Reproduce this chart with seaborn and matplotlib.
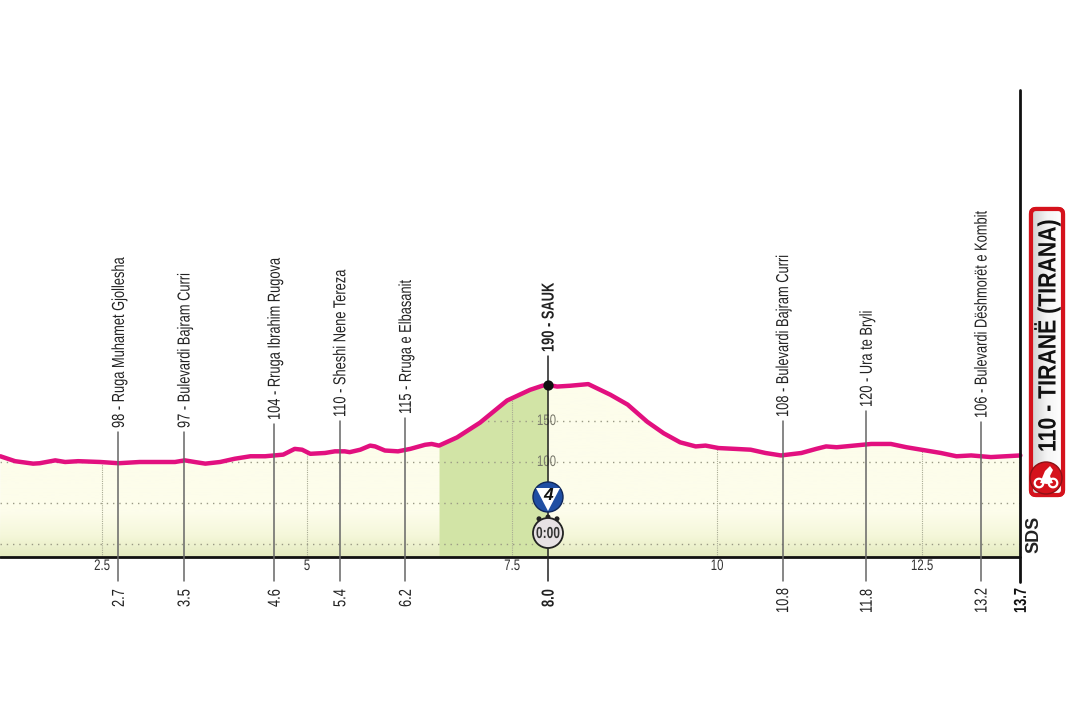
""" Stage profile : Tirane time trial """

import numpy as np
import pandas as pd
import matplotlib.pyplot as plt
import matplotlib.patheffects as pe
import seaborn as sns
from matplotlib.colors import LinearSegmentedColormap
from matplotlib.patches import Circle, FancyBboxPatch, Polygon
from matplotlib.transforms import Affine2D

sns.set_theme(style="white")
plt.rcParams["font.family"] = ["Liberation Sans", "DejaVu Sans"]

""" Data read off the picture """
# Elevation profile (km, metres)
profile_km = [1.26, 1.44, 1.66, 1.74, 1.93, 2.05, 2.21, 2.48, 2.70, 2.96, 3.39, 3.51, 3.63, 3.76,
              3.94, 4.12, 4.31, 4.49, 4.71, 4.85, 4.94, 5.04, 5.22, 5.34, 5.46, 5.52, 5.65, 5.77,
              5.83, 5.95, 6.11, 6.26, 6.44, 6.52, 6.61, 6.83, 7.11, 7.44, 7.72, 7.87, 7.94, 8.05,
              8.21, 8.43, 8.70, 8.91, 9.15, 9.35, 9.55, 9.74, 9.86, 10.02, 10.22, 10.41, 10.59,
              10.78, 11.03, 11.21, 11.33, 11.46, 11.88, 12.12, 12.31, 12.61, 12.73, 12.92, 13.10,
              13.34, 13.70]
profile_m = [107, 101, 98, 98.5, 102, 100, 101, 100, 98.5, 100, 100, 102, 100, 98,
             100, 104, 107, 107, 109, 116, 115, 110, 111, 113, 113, 112, 115, 120,
             119, 114, 113, 116, 121, 122, 120, 130, 148, 175, 188, 193, 194, 192,
             193, 195, 182, 170, 149, 135, 124, 119, 120, 117, 116, 115, 111,
             108, 111, 116, 119, 118, 122, 122, 118, 113, 111, 107, 108,
             106, 108]

# Named points along the route
point_km = [2.7, 3.5, 4.6, 5.4, 6.2, 7.94, 10.8, 11.82, 13.22]
point_km_labels = ["2.7", "3.5", "4.6", "5.4", "6.2", "8.0", "10.8", "11.8", "13.2"]
point_names = ["98 - Ruga Muhamet Gjollesha", "97 - Bulevardi Bajram Curri", "104 - Rruga Ibrahim Rugova",
               "110 - Sheshi Nene Tereza", "115 - Rruga e Elbasanit", "190 - SAUK",
               "108 - Bulevardi Bajram Curri", "120 - Ura te Bryli", "106 - Bulevardi Dëshmorët e Kombit"]
# Pixel row where each label ends
label_rows = [428, 428, 420, 417, 414, 352, 417, 407, 418]
# Pixel row where each km label starts at the bottom
km_label_rows = [607, 607, 607, 607, 607, 607, 613, 613, 613]

km_ticks = [2.5, 5, 7.5, 10, 12.5]
km_tick_labels = ["2.5", "5", "7.5", "10", "12.5"]
elev_ticks = [0, 50, 100, 150]
elev_tick_labels = ["150", "100"]
climb_start_km = 6.60
summit_km = 7.94
finish_km = 13.70
finish_label = "13.7"
finish_name = "110 - TIRANË (TIRANA)"

df = pd.DataFrame({"km": profile_km, "m": profile_m})


# Squeeze glyphs along the text direction, there is no narrow font installed
class Condense(pe.AbstractPathEffect):
    def __init__(self, sx, center=False):
        super().__init__()
        self.sx = sx
        self.center = center

    def draw_path(self, renderer, gc, tpath, affine, rgbFace=None):
        shift = 0
        if self.center:
            ext = tpath.get_extents()
            shift = (1 - self.sx) * (ext.x0 + ext.x1) / 2
        renderer.draw_path(gc, tpath, Affine2D().scale(self.sx, 1).translate(shift, 0) + affine, rgbFace)


narrow = [Condense(0.74)]
narrow_center = [Condense(0.75, center=True)]
px_m = lambda row: (544 - row) / 0.82
text_nudge = 1 / 82

""" Figure : one axes for the data, one pixel overlay for the badges """
fig = plt.figure(figsize=(10.68, 7.12), dpi=100)
ax = fig.add_axes([0, 0, 1, 1])
xlim = (1.256, 1.256 + 1068 / 82)
ylim = (px_m(712), px_m(0))
base_m = px_m(557)

# Pale fill with a soft green fade at the bottom, clipped under the curve
cream = LinearSegmentedColormap.from_list("cream", [(0, "#e4ebc0"), (0.12, "#f5f7da"), (0.25, "#fdfdeb"), (1, "#fdfdeb")])
grad = np.linspace(0, 1, 200).reshape(-1, 1)
im = ax.imshow(grad, extent=(xlim[0], finish_km, base_m, 200), origin="lower", aspect="auto", cmap=cream, zorder=1)
under = Polygon(list(zip(profile_km, profile_m)) + [(finish_km, base_m), (xlim[0], base_m)], transform=ax.transData, fc="none", ec="none")
ax.add_patch(under)
im.set_clip_path(under)

# Climb in green
mask = (df["km"] >= climb_start_km) & (df["km"] <= summit_km)
ax.fill_between(df["km"][mask], base_m, df["m"][mask], color="#d2e4a6", lw=0, zorder=2)

# Dotted elevation lines and light km lines, only under the curve
for e in elev_ticks:
    line, = ax.plot([xlim[0], finish_km], [e, e], color="#9a9a85", lw=1, ls=(0, (1, 3.5)), zorder=3)
    line.set_clip_path(under)
for k, lab in zip(km_ticks, km_tick_labels):
    line, = ax.plot([k, k], [base_m, 300], color="#a9ab94", lw=0.8, ls=(0, (1, 1)), zorder=3)
    line.set_clip_path(under)
    ax.text(k, px_m(566), lab, ha="center", va="center", fontsize=11, color="#333333", path_effects=narrow_center)
for e, lab in zip(elev_ticks[:1:-1], elev_tick_labels):
    ax.text(summit_km - 0.02, e, lab, ha="center", va="center", fontsize=11, color="#77776a", zorder=4, path_effects=narrow_center)

# Profile curve
sns.lineplot(data=df, x="km", y="m", ax=ax, color="#e2107f", lw=3.2, sort=False, errorbar=None, zorder=5)

# Axis lines
ax.plot([xlim[0], finish_km], [base_m, base_m], color="#111111", lw=2, zorder=6)
ax.plot([finish_km, finish_km], [px_m(582), px_m(90)], color="#111111", lw=2, zorder=6)

# Route points
for k, lab, name, row, krow in zip(point_km, point_km_labels, point_names, label_rows, km_label_rows):
    is_summit = k == summit_km
    ax.plot([k, k], [px_m(581), px_m(row + 4)], color="#222222" if is_summit else "#666666", lw=1.1, zorder=6)
    weight = "bold" if is_summit else "normal"
    ax.text(k + text_nudge, px_m(row), name, rotation=90, ha="center", va="bottom", fontsize=12.5, color="#222222",
            fontweight=weight, zorder=7, path_effects=narrow)
    ax.text(k + text_nudge, px_m(krow), lab, rotation=90, ha="center", va="bottom", fontsize=12.5, color="#222222",
            fontweight=weight, zorder=7, path_effects=narrow)
ax.text(finish_km + text_nudge, px_m(613), finish_label, rotation=90, ha="center", va="bottom", fontsize=12.5, color="#111111",
        fontweight="bold", path_effects=narrow)

# Summit dot
sns.scatterplot(x=[summit_km], y=[194], ax=ax, color="#111111", s=55, lw=0, zorder=8)

ax.set_xlim(xlim)
ax.set_ylim(ylim)
ax.set_axis_off()

""" Badges drawn in pixel coordinates """
ov = fig.add_axes([0, 0, 1, 1], facecolor="none")
ov.set_xlim(0, 1068)
ov.set_ylim(712, 0)
ov.set_axis_off()

# Mountain point badge
ov.add_patch(Circle((548, 497), 15, fc="#1f4ea3", ec="#10285a", lw=1, zorder=3))
ov.add_patch(Polygon([(536, 488), (560, 488), (548, 511)], fc="white", ec="none", zorder=4))
ov.text(548, 496, "4", ha="center", va="center", fontsize=12.5, fontweight="bold", style="italic", color="#111111", zorder=5)

# Stopwatch badge
for dx in [-9, 0, 9]:
    ov.add_patch(Circle((548 + dx, 517 + abs(dx) * 0.2), 2.5, fc="#222222", ec="none", zorder=3))
ov.add_patch(Circle((548, 533), 15, fc="#e7e1e4", ec="#222222", lw=1.3, zorder=4))
ov.text(548, 533.5, "0:00", ha="center", va="center", fontsize=11.5, fontweight="bold", color="#333333", zorder=5, path_effects=narrow_center)

# Finish box
box = FancyBboxPatch((1031, 209), 32, 286, boxstyle="round,pad=0,rounding_size=5", fc="#f0f0f0", ec="#d5121c", lw=3, zorder=3)
ov.add_patch(box)
shade = LinearSegmentedColormap.from_list("shade", ["#cfcfcf", "#f4f4f4", "#ffffff"])
fill = ov.imshow(np.linspace(0, 1, 50).reshape(1, -1), extent=(1031, 1063, 495, 209), aspect="auto", cmap=shade, zorder=3.5)
fill.set_clip_path(box)
ov.add_patch(FancyBboxPatch((1031, 209), 32, 286, boxstyle="round,pad=0,rounding_size=5", fc="none", ec="#d5121c", lw=3, zorder=4))
ov.text(1047, 452, finish_name, rotation=90, ha="center", va="bottom", fontsize=18, fontweight="bold", color="#111111", zorder=5,
        path_effects=[Condense(0.85)])

# Finish cyclist icon
ov.add_patch(Circle((1046, 478), 16, fc="#d5121c", ec="#8e1015", lw=1, zorder=6))
for dx in [-7, 7]:
    ov.add_patch(Circle((1046 + dx, 483), 4.3, fc="none", ec="white", lw=1.6, zorder=7))
ov.add_patch(Polygon([(1040, 483), (1045, 471), (1050, 466), (1053, 470), (1050, 476), (1053, 483), (1047, 484)], fc="white", ec="none", zorder=7))

ov.text(1034, 534, "SDS", rotation=90, ha="center", va="center", fontsize=13, fontweight="bold", color="#222222")

ov.set_xlim(0, 1068)
ov.set_ylim(712, 0)

fig.savefig("out.png", dpi=100, facecolor="white")
